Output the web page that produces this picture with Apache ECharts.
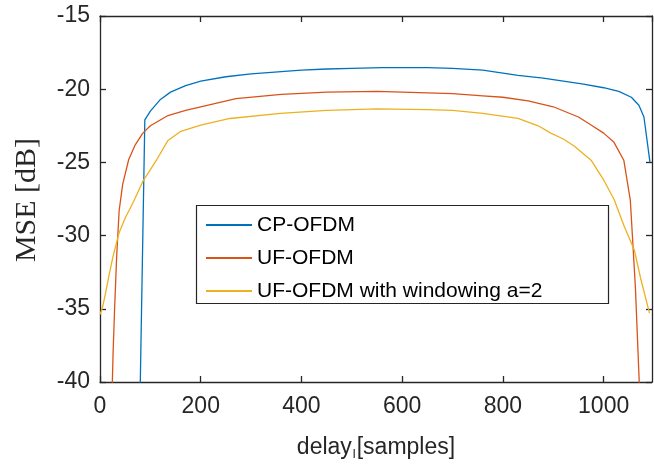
<!DOCTYPE html>
<html>
<head>
<meta charset="utf-8">
<script src="https://cdn.jsdelivr.net/npm/echarts@6/dist/echarts.min.js"></script>
<style>
  html, body { margin: 0; padding: 0; background: #fff; }
  #chart { width: 654px; height: 466px; }
</style>
</head>
<body>
<div id="chart"></div>
<script>
const seriesNames = ["CP-OFDM", "UF-OFDM", "UF-OFDM with windowing a=2"];
const xTicks = [0, 200, 400, 600, 800, 1000];
const yTicks = [-40, -35, -30, -25, -20, -15];

// CP-OFDM
const cpX = [79, 89, 100, 120, 140, 170, 200, 250, 300, 360, 400, 450, 500, 560, 650, 700, 760, 830, 880, 920, 960, 1000, 1030, 1055, 1070, 1080, 1092];
const cpY = [-42, -22.1, -21.5, -20.7, -20.2, -19.75, -19.45, -19.15, -18.95, -18.8, -18.7, -18.62, -18.58, -18.53, -18.52, -18.58, -18.7, -19.05, -19.25, -19.45, -19.65, -19.9, -20.15, -20.55, -21.1, -21.9, -25.0];

// UF-OFDM
const ufX = [23, 26, 29, 33, 38, 45, 57, 70, 85, 100, 135, 170, 200, 270, 360, 450, 550, 600, 650, 700, 760, 800, 850, 900, 950, 975, 1000, 1020, 1040, 1053, 1063, 1073];
const ufY = [-42, -38, -35, -31.5, -28.3, -26.5, -24.8, -23.8, -23.0, -22.5, -21.8, -21.45, -21.2, -20.65, -20.35, -20.2, -20.15, -20.2, -20.25, -20.3, -20.45, -20.55, -20.8, -21.2, -21.9, -22.45, -23.0, -23.6, -24.85, -27.6, -33.5, -42];

// UF-OFDM with windowing
const winX = [0, 5, 10, 18, 26, 38, 50, 59, 69, 85, 100, 112, 135, 159, 200, 258, 358, 450, 550, 650, 700, 760, 830, 870, 895, 920, 942, 975, 1000, 1021, 1040, 1061, 1074, 1091];
const winY = [-35.4, -34.9, -34.1, -32.7, -31.4, -29.8, -28.8, -28.2, -27.5, -26.3, -25.5, -24.85, -23.5, -22.9, -22.45, -22.0, -21.65, -21.45, -21.35, -21.4, -21.45, -21.65, -22.0, -22.5, -23.0, -23.4, -23.9, -24.85, -26.2, -27.55, -29.3, -31.0, -33.0, -35.3];

const colors = ["#0072BD", "#D95319", "#EDB120"];
const axisColor = "#262626";

function pairs(xs, ys) {
  return xs.map((x, i) => [x, ys[i]]);
}

const chart = echarts.init(document.getElementById("chart"));

const axisCommon = {
  axisLine: { show: true, onZero: false, lineStyle: { color: axisColor, width: 1.3 } },
  axisTick: { show: true, inside: true, length: 6, lineStyle: { color: axisColor, width: 1.3 } },
  splitLine: { show: false }
};

const labelFont = { fontFamily: "Liberation Sans, Arial, sans-serif", fontSize: 23, color: axisColor };

function lineSeries(i, data) {
  return {
    name: seriesNames[i], type: "line", data: data, symbol: "none",
    color: colors[i], lineStyle: { width: 1.3 }, clip: true
  };
}

chart.setOption({
  animation: false,
  grid: { left: 100, right: 2, top: 16, bottom: 83 },
  xAxis: [
    {
      type: "value", position: "bottom", min: 0, max: 1096, interval: 200,
      ...axisCommon,
      axisLabel: { ...labelFont, margin: 13, showMaxLabel: false, formatter: v => String(v) },
      name: "{a|delay}{s|l}{a|[samples]}",
      nameLocation: "middle",
      nameGap: 52,
      nameTextStyle: {
        rich: {
          a: { fontFamily: "Liberation Sans, Arial, sans-serif", fontSize: 23, color: axisColor },
          s: { fontFamily: "Liberation Sans, Arial, sans-serif", fontSize: 13, color: axisColor, padding: [14, 1, 0, 1] }
        }
      }
    },
    {
      type: "value", position: "top", min: 0, max: 1096, interval: 200,
      ...axisCommon,
      axisLabel: { show: false }
    }
  ],
  yAxis: [
    {
      type: "value", position: "left", min: -40, max: -15, interval: 5,
      ...axisCommon,
      axisLabel: { ...labelFont, margin: 10 }
    },
    {
      type: "value", position: "right", min: -40, max: -15, interval: 5,
      ...axisCommon,
      axisLabel: { show: false }
    }
  ],
  legend: {
    orient: "vertical",
    left: 206,
    top: 214,
    z: 20,
    icon: "rect",
    itemWidth: 46,
    itemHeight: 2,
    itemGap: 11,
    padding: 0,
    data: seriesNames,
    textStyle: { fontFamily: "Liberation Sans, Arial, sans-serif", fontSize: 21, color: "#000", lineHeight: 22 }
  },
  graphic: [
    {
      type: "rect",
      z: 10,
      shape: { x: 196.5, y: 205.5, width: 412, height: 98 },
      style: { fill: "#fff", stroke: axisColor, lineWidth: 1.2 }
    },
    {
      type: "text",
      x: 27, y: 200,
      rotation: Math.PI / 2,
      style: {
        text: "MSE [dB]",
        font: "30px 'Liberation Serif', 'Times New Roman', serif",
        fill: axisColor,
        align: "center",
        verticalAlign: "middle"
      }
    }
  ],
  series: [
    lineSeries(0, pairs(cpX, cpY)),
    lineSeries(1, pairs(ufX, ufY)),
    lineSeries(2, pairs(winX, winY))
  ]
});
</script>
</body>
</html>
